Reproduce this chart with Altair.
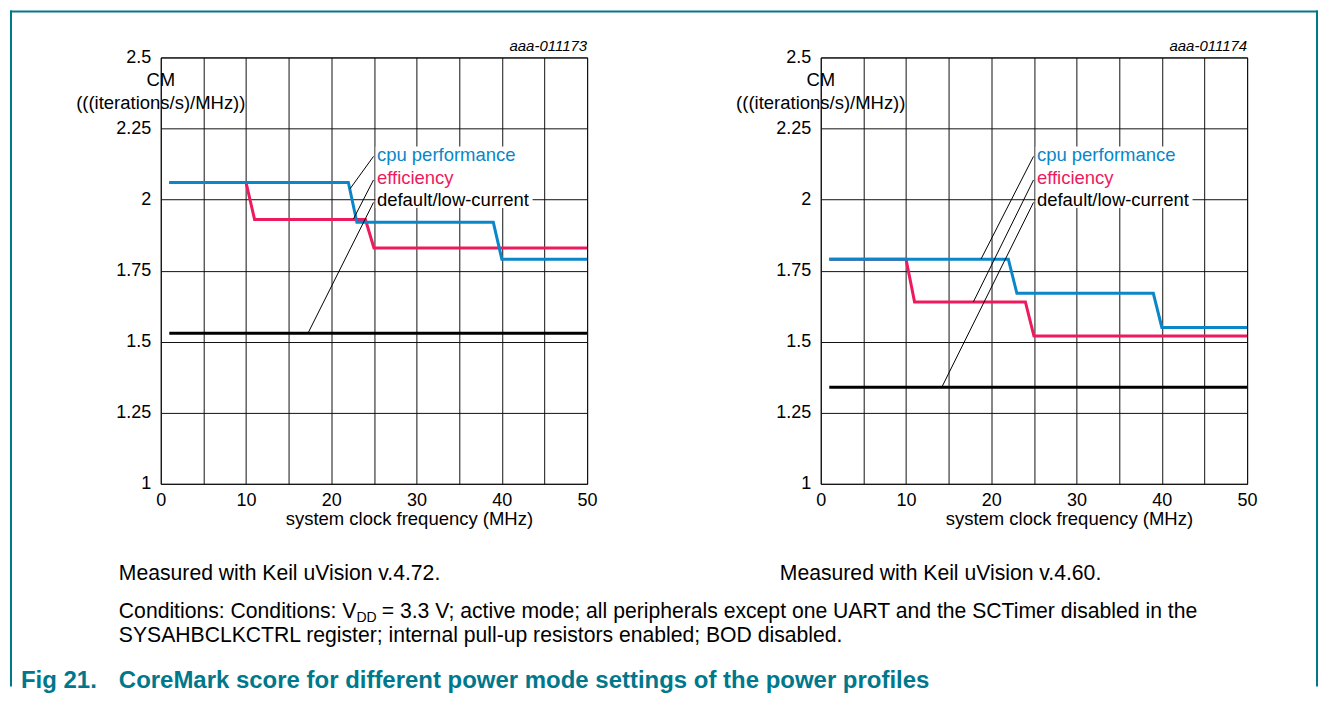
import altair as alt
import pandas as pd

FONT = "Liberation Sans"
TEAL = "#00788c"

# ---- data ----
SERIES = ["cpu performance", "efficiency", "default/low-current"]
SERIES_COLORS = ["#0a86c9", "#ee1a5e", "#000000"]

# left panel: Keil uVision v.4.72
L_CPU_X = [1, 22, 23, 39, 40, 50]
L_CPU_Y = [2.06, 2.06, 1.92, 1.92, 1.79, 1.79]
L_EFF_X = [1, 10, 11, 24, 25, 50]
L_EFF_Y = [2.06, 2.06, 1.93, 1.93, 1.83, 1.83]
L_DEF_X = [1, 50]
L_DEF_Y = [1.53, 1.53]

# right panel: Keil uVision v.4.60
R_CPU_X = [1, 22, 23, 39, 40, 50]
R_CPU_Y = [1.79, 1.79, 1.67, 1.67, 1.55, 1.55]
R_EFF_X = [1, 10, 11, 24, 25, 50]
R_EFF_Y = [1.79, 1.79, 1.64, 1.64, 1.52, 1.52]
R_DEF_X = [1, 50]
R_DEF_Y = [1.34, 1.34]

# annotation labels and leader lines (data coordinates)
LABEL_X = [25.35, 25.35, 25.35]
LABEL_Y = [2.155, 2.075, 1.997]
LEADER_X0 = [24.95, 24.95, 24.95]
LEADER_Y0 = [2.152, 2.069, 1.99]
L_LEADER_X1 = [22.2, 22.6, 17.3]
L_LEADER_Y1 = [2.038, 1.932, 1.532]
R_LEADER_X1 = [18.8, 17.9, 14.2]
R_LEADER_Y1 = [1.791, 1.64, 1.34]
BOX_X = [25.2]
BOX_X2 = [43.6]
BOX_Y = [1.97]
BOX_Y2 = [2.187]

X_TICKS = [0, 5, 10, 15, 20, 25, 30, 35, 40, 45, 50]
Y_TICKS = [1, 1.25, 1.5, 1.75, 2, 2.25, 2.5]

W = 427
H = 427

xs = alt.Scale(domain=[0, 50], nice=False, zero=False)
ys = alt.Scale(domain=[1, 2.5], nice=False, zero=False)
xax = alt.Axis(values=X_TICKS, title=None,
               labelExpr="datum.value % 10 == 0 ? datum.label : ''")
yax = alt.Axis(values=Y_TICKS, title=None, labelExpr="'' + datum.value")


def X(f):
    return alt.X(f, type="quantitative", scale=xs, axis=xax)


def Y(f):
    return alt.Y(f, type="quantitative", scale=ys, axis=yax)


def txt(s, x, y, size=18.5, color="black", align="left", weight="normal",
        style="normal"):
    return alt.Chart(pd.DataFrame({"t": [s]})).mark_text(
        align=align, baseline="middle", fontSize=size, font=FONT, color=color,
        fontWeight=weight, fontStyle=style
    ).encode(x=alt.value(x), y=alt.value(y), text="t:N")


def line(xv, yv, color):
    df = pd.DataFrame({"x": xv, "y": yv})
    return alt.Chart(df).mark_line(color=color, strokeWidth=3).encode(
        x=X("x"), y=Y("y"))


def panel(cx, cy, ex, ey, dx, dy, lx1, ly1, code, note, extra):
    box = alt.Chart(pd.DataFrame({"x": BOX_X, "x2": BOX_X2, "y": BOX_Y, "y2": BOX_Y2})
                    ).mark_rect(color="white").encode(
        x=X("x"), x2="x2", y=Y("y"), y2="y2")
    lead = alt.Chart(pd.DataFrame({"x": LEADER_X0, "y": LEADER_Y0,
                                   "x2": lx1, "y2": ly1})).mark_rule(
        color="black", strokeWidth=1).encode(x=X("x"), y=Y("y"), x2="x2", y2="y2")
    labels = alt.Chart(pd.DataFrame({"x": LABEL_X, "y": LABEL_Y, "s": SERIES})
                       ).mark_text(align="left", baseline="middle", fontSize=18.5,
                                   font=FONT).encode(
        x=X("x"), y=Y("y"), text="s:N",
        color=alt.Color("s:N", scale=alt.Scale(domain=SERIES, range=SERIES_COLORS),
                        legend=None))
    layers = [
        box,
        line(dx, dy, SERIES_COLORS[2]),
        line(ex, ey, SERIES_COLORS[1]),
        line(cx, cy, SERIES_COLORS[0]),
        lead,
        labels,
        txt(code, W, -11, size=15, align="right", style="italic"),
        txt("CM", 0, 23, align="center"),
        txt("(((iterations/s)/MHz))", 0, 45.5, align="center"),
        txt("system clock frequency (MHz)", 249, 462, align="center"),
        txt(note[0], note[1], 517, size=FS),
    ] + extra
    return alt.layer(*layers).properties(width=W, height=H)


def rule(**enc):
    return alt.Chart(pd.DataFrame({"a": [0]})).mark_rule(
        color=TEAL, strokeWidth=2).encode(**{k: alt.value(v) for k, v in enc.items()})


FS = 21.2
W1 = 11.227 * FS
WDD = 1.444 * 14 + 5
extra_left = [
    rule(x=-150, y=-47, y2=630),
    rule(x=-151, x2=1159, y=-46),
    rule(x=1158, y=-47, y2=630),
    txt("Conditions: Conditions: V", -42, 555, size=FS),
    txt("DD", -42 + W1, 561, size=14),
    txt("= 3.3 V; active mode; all peripherals except one UART and the SCTimer disabled in the",
        -42 + W1 + WDD, 555, size=FS),
    txt("SYSAHBCLKCTRL register; internal pull-up resistors enabled; BOD disabled.",
        -42, 579, size=FS),
    txt("Fig 21.", -140, 625, size=24, color=TEAL, weight="bold"),
    txt("CoreMark score for different power mode settings of the power profiles",
        -42, 625, size=24, color=TEAL, weight="bold"),
]

left = panel(L_CPU_X, L_CPU_Y, L_EFF_X, L_EFF_Y, L_DEF_X, L_DEF_Y,
             L_LEADER_X1, L_LEADER_Y1, "aaa-011173",
             ("Measured with Keil uVision v.4.72.", -42), extra_left)
right = panel(R_CPU_X, R_CPU_Y, R_EFF_X, R_EFF_Y, R_DEF_X, R_DEF_Y,
              R_LEADER_X1, R_LEADER_Y1, "aaa-011174",
              ("Measured with Keil uVision v.4.60.", -41), [])

chart = alt.hconcat(left, right, spacing=234, bounds="flush").properties(
    padding={"left": 0, "top": 0, "right": 0, "bottom": 0}
).configure_view(stroke="black", strokeWidth=1).configure_axis(
    labelFont=FONT, labelFontSize=18, labelColor="black", ticks=False,
    domain=False, grid=True, gridColor="#111111", gridWidth=1, gridOpacity=1,
    labelFlush=False, labelOverlap=False, labelBound=False
).configure_axisX(labelPadding=8).configure_axisY(labelPadding=10)

chart.save("out.html", embed_options={"renderer": "svg", "actions": False})
